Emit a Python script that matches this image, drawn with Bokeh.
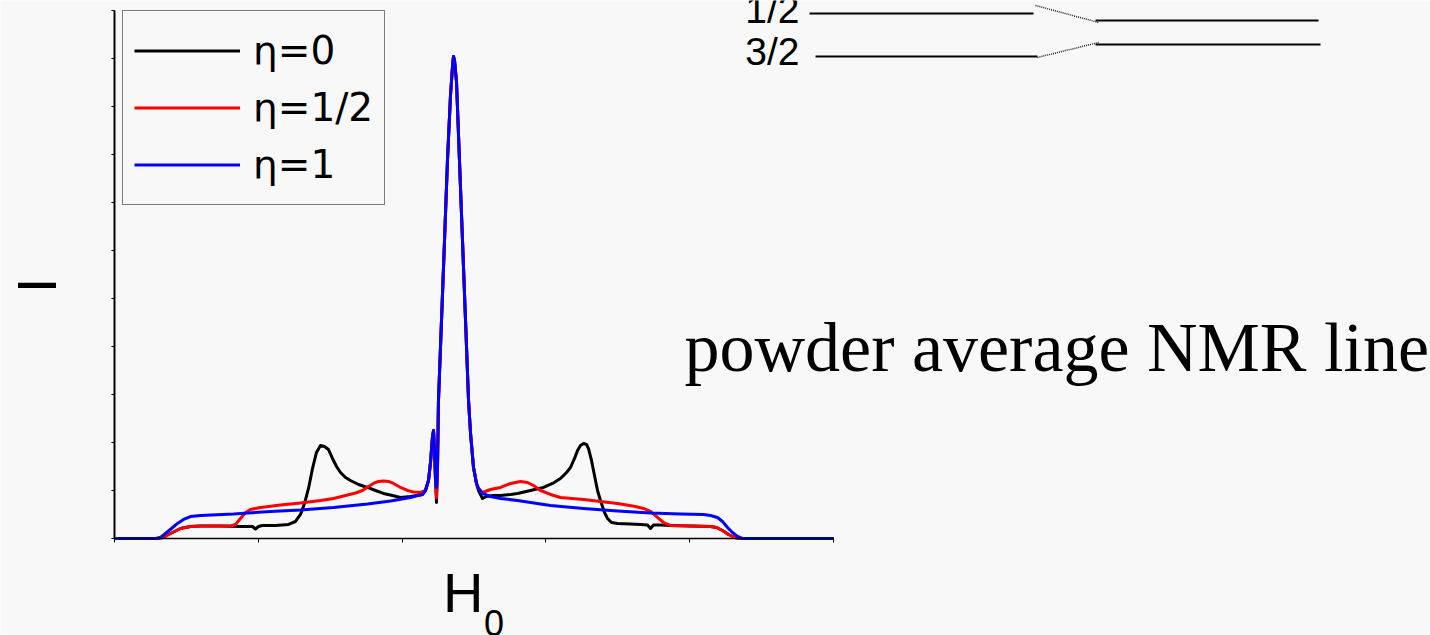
import math
from bokeh.plotting import figure
from bokeh.models import Range1d, FixedTicker, Legend, LegendItem
from bokeh.core.properties import value
from bokeh.embed import file_html
from bokeh.resources import INLINE

# ---------------- data (arbitrary field units / intensity units) ----------------
x_eta0 = [0.0, 0.57, 0.668, 0.779, 0.918, 1.057, 1.196, 1.474, 1.752, 1.919, 1.961, 2.003, 2.058,
          2.239, 2.420, 2.517, 2.587, 2.643, 2.698, 2.754, 2.809, 2.865, 2.921, 2.976, 3.032, 3.088,
          3.143, 3.213, 3.282, 3.394, 3.519, 3.630, 3.741, 3.866, 3.978, 4.117, 4.214, 4.284, 4.325,
          4.367, 4.395, 4.423, 4.437, 4.451, 4.465, 4.478, 4.492, 4.506, 4.548, 4.590, 4.631, 4.673,
          4.701, 4.715, 4.729, 4.757, 4.798, 4.840, 4.882, 4.924, 4.951, 4.993, 5.035, 5.063, 5.118,
          5.174, 5.257, 5.369, 5.508, 5.605, 5.786, 5.967, 6.092, 6.203, 6.287, 6.342, 6.398, 6.440,
          6.481, 6.523, 6.565, 6.592, 6.634, 6.676, 6.718, 6.759, 6.815, 6.857, 6.912, 6.996, 7.177,
          7.316, 7.413, 7.455, 7.497, 7.594, 7.733, 8.011, 8.289, 8.373, 8.456, 8.540, 8.623, 8.707,
          10.0]
y_eta0 = [0.0, 0.0, 0.021, 0.104, 0.208, 0.25, 0.26, 0.26, 0.25, 0.25, 0.198, 0.25, 0.271,
          0.271, 0.292, 0.354, 0.5, 0.729, 1.042, 1.458, 1.792, 1.938, 1.917, 1.854, 1.667, 1.5,
          1.375, 1.271, 1.208, 1.125, 1.063, 1.0, 0.938, 0.896, 0.854, 0.875, 0.896, 0.917, 1.0,
          1.208, 1.583, 2.125, 2.25, 1.833, 1.208, 0.75, 1.417, 2.875, 4.542, 6.208, 7.875, 9.229,
          9.833, 10.042, 9.958, 9.5, 7.875, 6.208, 4.542, 2.875, 2.208, 1.479, 1.146, 1.0, 0.833,
          0.875, 0.896, 0.896, 0.917, 0.938, 1.0, 1.063, 1.146, 1.25, 1.375, 1.479, 1.667, 1.833,
          1.938, 1.979, 1.958, 1.875, 1.625, 1.313, 1.0, 0.792, 0.542, 0.417, 0.333, 0.313, 0.302,
          0.292, 0.281, 0.208, 0.281, 0.281, 0.271, 0.26, 0.25, 0.229, 0.167, 0.083, 0.021, 0.0,
          0.0]

x_eta_half = [0.0, 0.612, 0.681, 0.779, 0.918, 1.057, 1.196, 1.613, 1.683, 1.752, 1.822, 1.892,
              2.031, 2.309, 2.587, 2.865, 3.046, 3.213, 3.352, 3.449, 3.533, 3.602, 3.672, 3.741,
              3.811, 3.880, 3.978, 4.075, 4.159, 4.256, 4.325, 4.367, 4.395, 4.423, 4.437, 4.451,
              4.465, 4.478, 4.492, 4.506, 4.548, 4.590, 4.631, 4.673, 4.701, 4.715, 4.729, 4.757,
              4.798, 4.840, 4.882, 4.924, 4.951, 4.993, 5.035, 5.063, 5.118, 5.229, 5.369, 5.508,
              5.647, 5.744, 5.828, 5.925, 6.064, 6.203, 6.523, 6.759, 6.996, 7.246, 7.357, 7.455,
              7.552, 7.636, 7.733, 8.011, 8.289, 8.373, 8.456, 8.540, 8.623, 8.707, 10.0]
y_eta_half = [0.0, 0.0, 0.021, 0.104, 0.208, 0.25, 0.26, 0.26, 0.292, 0.417, 0.542, 0.604,
              0.646, 0.698, 0.74, 0.792, 0.833, 0.896, 0.948, 1.0, 1.083, 1.146, 1.188, 1.198,
              1.188, 1.146, 1.063, 1.0, 0.969, 0.958, 1.0, 1.208, 1.583, 2.125, 2.25, 1.833,
              1.208, 0.854, 1.417, 2.875, 4.542, 6.208, 7.875, 9.229, 9.833, 10.042, 9.958, 9.5,
              7.875, 6.208, 4.542, 2.875, 2.208, 1.479, 1.146, 1.042, 0.958, 1.021, 1.063, 1.146,
              1.188, 1.167, 1.104, 1.0, 0.917, 0.854, 0.813, 0.771, 0.729, 0.667, 0.625, 0.563,
              0.438, 0.333, 0.271, 0.26, 0.25, 0.229, 0.167, 0.083, 0.021, 0.0, 0.0]

x_eta1 = [0.0, 0.584, 0.640, 0.709, 0.793, 0.876, 0.960, 1.057, 1.196, 1.655, 2.170, 2.587,
          3.046, 3.519, 3.839, 4.117, 4.214, 4.284, 4.325, 4.367, 4.395, 4.423, 4.437, 4.451,
          4.465, 4.478, 4.492, 4.506, 4.548, 4.590, 4.631, 4.673, 4.701, 4.715, 4.729, 4.757,
          4.798, 4.840, 4.882, 4.924, 4.951, 4.993, 5.035, 5.063, 5.118, 5.229, 5.369, 5.605,
          6.064, 6.523, 6.996, 7.455, 7.872, 8.192, 8.289, 8.387, 8.456, 8.526, 8.595, 8.665,
          8.734, 10.0]
y_eta1 = [0.0, 0.0, 0.021, 0.104, 0.208, 0.313, 0.396, 0.458, 0.479, 0.51, 0.563, 0.594,
          0.646, 0.719, 0.781, 0.854, 0.896, 0.917, 1.0, 1.208, 1.583, 2.125, 2.25, 1.833,
          1.208, 1.063, 1.5, 2.875, 4.542, 6.208, 7.875, 9.229, 9.833, 10.042, 9.958, 9.5,
          7.875, 6.208, 4.542, 2.875, 2.208, 1.479, 1.146, 1.042, 0.938, 0.875, 0.833, 0.792,
          0.688, 0.625, 0.573, 0.531, 0.51, 0.5, 0.479, 0.438, 0.354, 0.229, 0.125, 0.042,
          0.0, 0.0]

series_labels = ["\u03b7=0", "\u03b7=1/2", "\u03b7=1"]
series_colors = ["#000000", "#ff0000", "#0000ff"]

x_ticks = [0, 2, 4, 6, 8, 10]
y_ticks = list(range(12))

# energy level sketch (spin levels 1/2 and 3/2), in the same plot units
level_labels = ["1/2", "3/2"]
level_left_x0 = [9.666, 9.750]
level_left_x1 = [12.782, 12.837]
level_left_y = [10.938, 10.042]
level_right_x0 = [13.644, 13.644]
level_right_x1 = [16.746, 16.773]
level_right_y = [10.792, 10.292]
link_x0 = [12.810, 12.837]
link_y0 = [11.104, 10.021]
link_x1 = [13.686, 13.686]
link_y1 = [10.75, 10.333]
level_label_x = [9.527, 9.527]
level_label_y = [11.02, 10.146]

caption = "powder average NMR line"
x_title = "H"
x_title_sub = "0"
y_title = "I"

BG = "#f8f8f8"
SANS = "Liberation Sans"

# pixel-exact frame: the whole canvas; axes pinned at data zero
p = figure(width=1430, height=635, output_backend="svg", toolbar_location=None,
           x_range=Range1d(-1.5855, 18.303), y_range=Range1d(-2.021, 11.208),
           min_border=0, min_border_left=0, min_border_right=0, min_border_top=0,
           min_border_bottom=0)
p.title.visible = False
p.background_fill_color = BG
p.border_fill_color = BG
p.outline_line_color = None
p.xgrid.visible = False
p.ygrid.visible = False

# axes
xa = p.xaxis[0]
xa.fixed_location = 0
xa.bounds = (0, 10)
xa.ticker = FixedTicker(ticks=x_ticks)
xa.major_tick_in = 0
xa.major_tick_out = 4
xa.minor_tick_line_color = None
xa.major_label_overrides = {t: "" for t in x_ticks}
xa.axis_line_width = 1.5
xa.major_tick_line_width = 1
xa.axis_line_color = "black"

ya = p.yaxis[0]
ya.fixed_location = 0
ya.bounds = (0, 11)
ya.ticker = FixedTicker(ticks=y_ticks)
ya.major_tick_in = 0
ya.major_tick_out = 3
ya.minor_tick_line_color = None
ya.major_label_overrides = {t: "" for t in y_ticks}
ya.axis_line_width = 2
ya.major_tick_line_width = 1
ya.axis_line_color = "black"

# curves
xs = [x_eta0, x_eta_half, x_eta1]
ys = [y_eta0, y_eta_half, y_eta1]
renderers = []
for xx, yy, c in zip(xs, ys, series_colors):
    r = p.line(xx, yy, line_color=c, line_width=3, line_join="round")
    renderers.append(r)

legend = Legend(items=[LegendItem(label=l, renderers=[r]) for l, r in zip(series_labels, renderers)],
                location=(122, 430), padding=11, spacing=0, margin=0,
                glyph_height=57, label_height=57, glyph_width=106, label_standoff=13,
                label_text_font="DejaVu Sans", label_text_font_size="39px",
                label_text_color="black",
                border_line_color="black", border_line_width=1,
                background_fill_alpha=0)
p.add_layout(legend)

# energy-level sketch
p.segment(level_left_x0, level_left_y, level_left_x1, level_left_y, line_color="black", line_width=2)
p.segment(level_right_x0, level_right_y, level_right_x1, level_right_y, line_color="black", line_width=2)
p.segment(link_x0, link_y0, link_x1, link_y1, line_color="#222222", line_width=1.5, line_dash="1 1")
p.text(level_label_x, level_label_y, text=level_labels, text_font=value(SANS), text_font_size="39px",
       text_align="right", text_baseline="alphabetic", text_color="black")

# caption
p.text([7.928], [3.979], text=[caption], text_font=value("Liberation Serif"), text_font_size="70px",
       text_align="left", text_baseline="alphabetic", text_color="black")

# axis titles
p.text([-1.085], [5.271], text=[y_title], angle=math.pi / 2, text_align="center",
       text_baseline="alphabetic", text_font=value(SANS), text_font_size="56px", text_color="black")
p.text([4.57], [-1.125], text=[x_title], text_align="left", text_baseline="alphabetic",
       text_font=value(SANS), text_font_size="56px", text_color="black")
p.text([5.14], [-1.771], text=[x_title_sub], text_align="left", text_baseline="alphabetic",
       text_font=value(SANS), text_font_size="36px", text_color="black")

open("out.html", "w").write(file_html(p, INLINE))
